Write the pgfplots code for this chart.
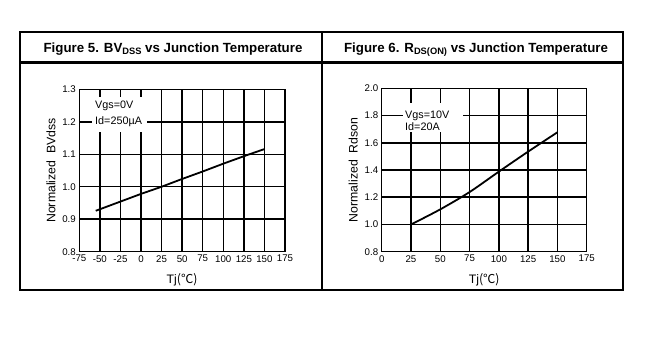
\documentclass[border=0pt]{standalone}
\usepackage{fontspec}
\setmainfont{Liberation Sans}
\newfontfamily\cjk{Noto Sans CJK SC}
\usepackage{pgfplots}
\pgfplotsset{compat=1.18}
\pgfplotsset{
  dsheet/.style={
    anchor=south west, scale only axis,
    grid=major,
    grid style={black, line width=1.5pt},
    axis line style={black, line width=1.5pt},
    major tick length=0pt,
    tick label style={font=\fontsize{9.7}{11}\selectfont},
    /pgf/number format/assume math mode=true,
    label style={font=\fontsize{12.3}{14}\selectfont},
    xlabel={Tj{\cjk(℃)}},
    xlabel style={yshift=-4pt},
    clip=false,
  }
}
\begin{document}
\begin{tikzpicture}
\path[use as bounding box] (0pt,0pt) rectangle (645pt,357pt);
\draw[line width=2pt] (20pt,325pt) rectangle (623pt,67.5pt);
\draw[line width=2pt] (20pt,294.5pt) -- (623pt,294.5pt);
\draw[line width=2pt] (322.3pt,325pt) -- (322.3pt,67.5pt);
\node[anchor=base, font=\bfseries\fontsize{13.3}{15}\selectfont] at (173pt,304.7pt)
  {Figure 5. BV\raisebox{-2pt}{\fontsize{9.3}{10}\selectfont DSS} vs Junction Temperature};
\node[anchor=base, font=\bfseries\fontsize{13.3}{15}\selectfont] at (476pt,304.7pt)
  {Figure 6. R\raisebox{-2pt}{\fontsize{9.3}{10}\selectfont DS(ON)} vs Junction Temperature};

\begin{axis}[dsheet,
  at={(79.3pt,105.3pt)}, width=205.7pt, height=162.4pt,
  xmin=-75, xmax=175, ymin=0.8, ymax=1.3,
  xtick={-75,-50,-25,0,25,50,75,100,125,150,175},
  ytick={0.8,0.9,1.0,1.1,1.2,1.3},
  yticklabel style={/pgf/number format/.cd, fixed, fixed zerofill, precision=1},
  ylabel={Normalized\ \ BVdss},
]
\fill[white] (axis cs:-59.6,1.2763) rectangle (axis cs:7.3,1.1685);
\node[anchor=west, inner sep=0pt, font=\fontsize{10.8}{12}\selectfont] at (axis cs:-55.9,1.249) {Vgs=0V};
\node[anchor=west, inner sep=0pt, font=\fontsize{10.8}{12}\selectfont] at (axis cs:-55.9,1.2) {Id=250µA};
\addplot[black, line width=1.8pt] coordinates {
  (-55,0.926) (0,0.978) (25,1.0) (50,1.024) (75,1.047) (100,1.071) (125,1.094) (150,1.116)
};
\end{axis}

\begin{axis}[dsheet,
  at={(381.7pt,105.3pt)}, width=205pt, height=163.4pt,
  xmin=0, xmax=175, ymin=0.8, ymax=2.0,
  xtick={0,25,50,75,100,125,150,175},
  ytick={0.8,1.0,1.2,1.4,1.6,1.8,2.0},
  yticklabel style={/pgf/number format/.cd, fixed, fixed zerofill, precision=1},
  ylabel={Normalized\ \ Rdson},
]
\fill[white] (axis cs:17.9,1.892) rectangle (axis cs:69.1,1.681);
\node[anchor=west, inner sep=0pt, font=\fontsize{10.8}{12}\selectfont] at (axis cs:19.9,1.8) {Vgs=10V};
\node[anchor=west, inner sep=0pt, font=\fontsize{10.8}{12}\selectfont] at (axis cs:19.9,1.72) {Id=20A};
\addplot[black, line width=1.8pt, smooth] coordinates {
  (25,1.0) (50,1.111) (75,1.238) (100,1.388) (125,1.535) (150,1.677)
};
\end{axis}
\end{tikzpicture}
\end{document}
